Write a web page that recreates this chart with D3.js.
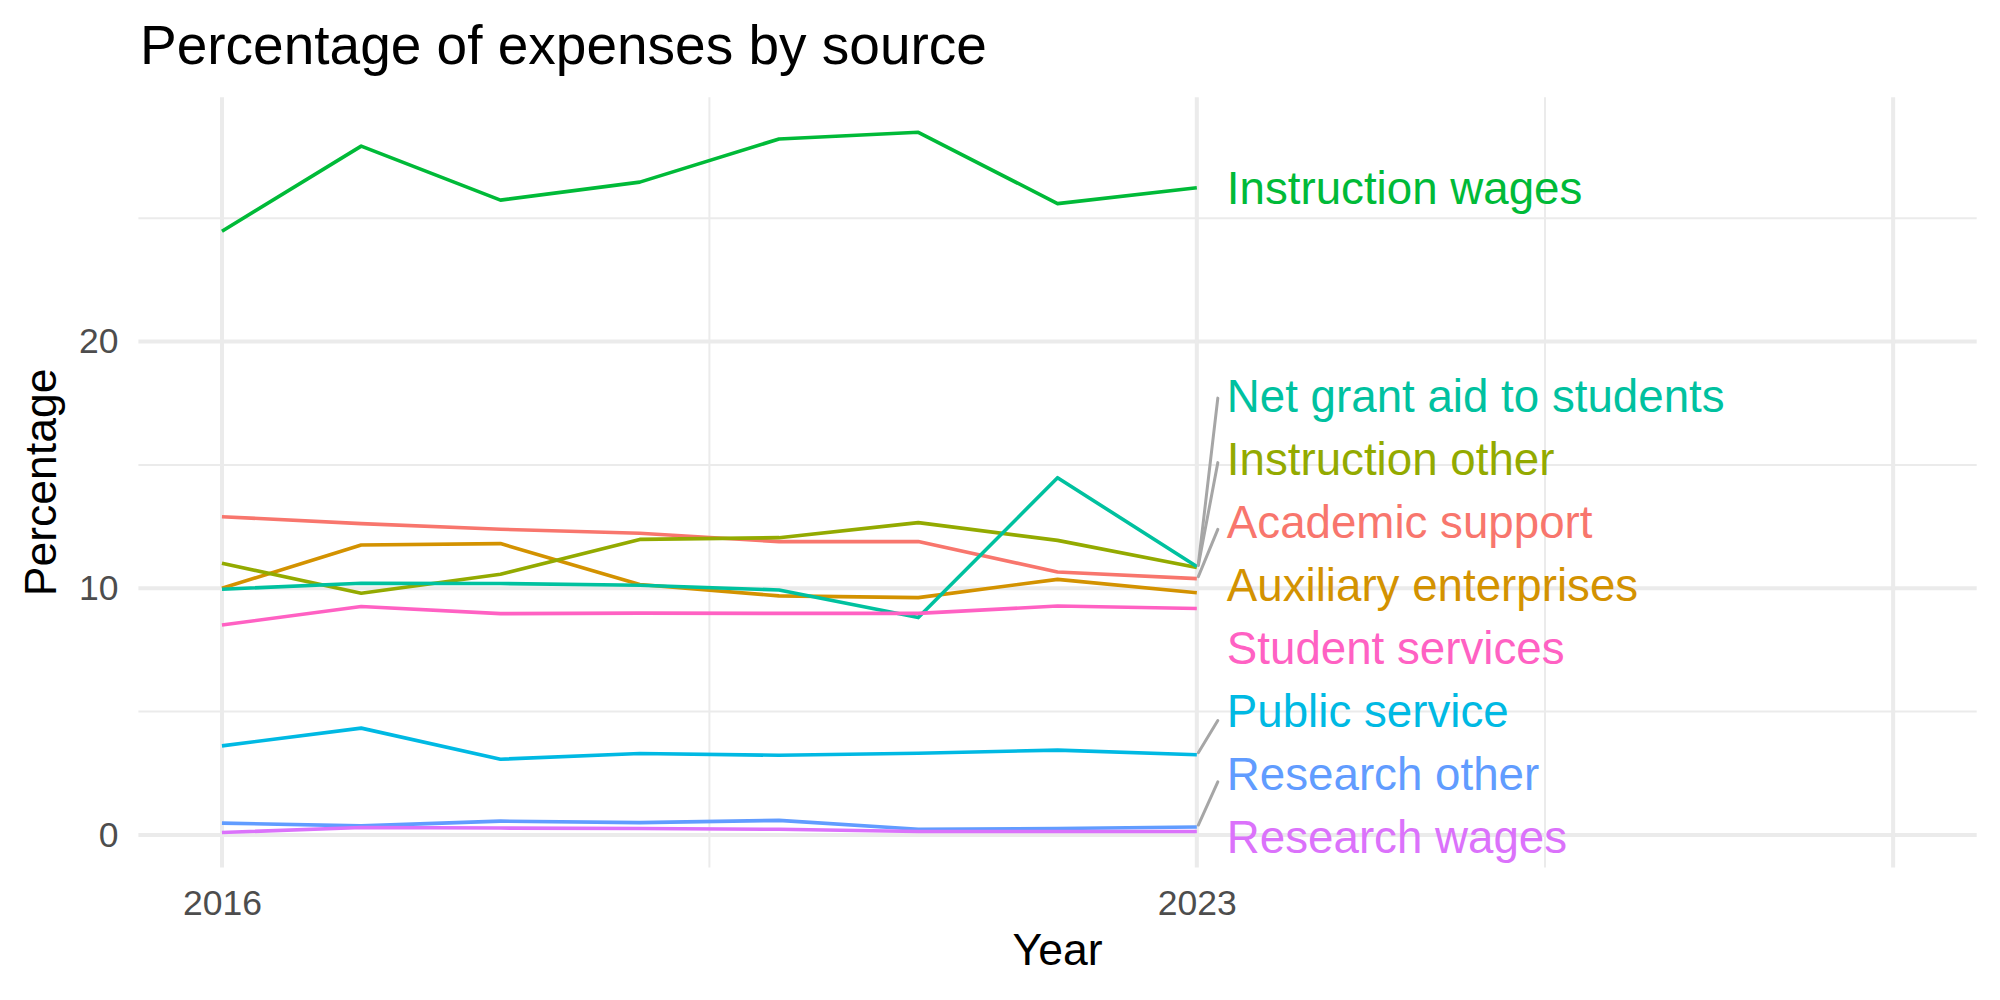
<!DOCTYPE html>
<html lang="en">
<head>
  <script src="https://d3js.org/d3.v7.min.js"></script>
  <style>
    body { margin: 0; background: #fff; }
    svg { font-family: "Liberation Sans", Arial, Helvetica, sans-serif; }
  </style>
</head>
<body>
  <svg width="2000" height="1000"></svg>
  <script>
    // data
    var years = [2016, 2017, 2018, 2019, 2020, 2021, 2022, 2023];
    var seriesNames = ["Academic support", "Auxiliary enterprises", "Instruction other", "Instruction wages",
      "Net grant aid to students", "Public service", "Research other", "Research wages", "Student services"];
    var academicSupport = [12.90, 12.62, 12.39, 12.23, 11.89, 11.89, 10.66, 10.39];
    var auxiliaryEnterprises = [10.00, 11.75, 11.81, 10.15, 9.69, 9.62, 10.36, 9.82];
    var instructionOther = [11.01, 9.80, 10.57, 11.98, 12.05, 12.66, 11.94, 10.84];
    var instructionWages = [24.47, 27.92, 25.73, 26.46, 28.21, 28.48, 25.59, 26.23];
    var netGrantAid = [9.96, 10.20, 10.19, 10.12, 9.93, 8.81, 14.48, 10.88];
    var publicService = [3.61, 4.33, 3.07, 3.30, 3.23, 3.31, 3.44, 3.25];
    var researchOther = [0.48, 0.37, 0.56, 0.50, 0.59, 0.23, 0.26, 0.32];
    var researchWages = [0.10, 0.30, 0.28, 0.26, 0.23, 0.14, 0.14, 0.14];
    var studentServices = [8.51, 9.26, 8.97, 8.99, 8.98, 8.98, 9.28, 9.18];
    var seriesValues = [academicSupport, auxiliaryEnterprises, instructionOther, instructionWages,
      netGrantAid, publicService, researchOther, researchWages, studentServices];
    var colors = ["#F8766D", "#D39200", "#93AA00", "#00BA38", "#00C19F", "#00B9E3", "#619CFF", "#DB72FB", "#FF61C3"];
    var xLimits = [2016, 2028];
    var xBreaks = [2016, 2023, 2028];
    var xLabels = ["2016", "2023", ""];
    var xMinor = [2019.5, 2025.5];
    var yBreaks = [0, 10, 20];
    var yMinor = [5, 15, 25];

    var pLeft = 138.4, pRight = 1976.7, pTop = 97.3, pBottom = 867.5;
    var svg = d3.select("svg");

    var series = seriesNames.map(function (n, i) {
      return { name: n, color: colors[i], values: seriesValues[i].map(function (v, j) { return { year: years[j], value: v }; }) };
    });

    var xpad = (xLimits[1] - xLimits[0]) * 0.05;
    var x = d3.scaleLinear().domain([xLimits[0] - xpad, xLimits[1] + xpad]).range([pLeft, pRight]);
    var allVals = d3.merge(seriesValues);
    var ext = d3.extent(allVals);
    var ypad = (ext[1] - ext[0]) * 0.05;
    var y = d3.scaleLinear().domain([ext[0] - ypad, ext[1] + ypad]).range([pBottom, pTop]);

    // grid
    var grid = svg.append("g").attr("stroke", "#EBEBEB");
    grid.selectAll(".ymin").data(yMinor).enter().append("line")
      .attr("x1", pLeft).attr("x2", pRight).attr("y1", function (d) { return y(d); }).attr("y2", function (d) { return y(d); })
      .attr("stroke-width", 2);
    grid.selectAll(".xmin").data(xMinor).enter().append("line")
      .attr("y1", pTop).attr("y2", pBottom).attr("x1", function (d) { return x(d); }).attr("x2", function (d) { return x(d); })
      .attr("stroke-width", 2);
    grid.selectAll(".ymaj").data(yBreaks).enter().append("line")
      .attr("x1", pLeft).attr("x2", pRight).attr("y1", function (d) { return y(d); }).attr("y2", function (d) { return y(d); })
      .attr("stroke-width", 4);
    grid.selectAll(".xmaj").data(xBreaks).enter().append("line")
      .attr("y1", pTop).attr("y2", pBottom).attr("x1", function (d) { return x(d); }).attr("x2", function (d) { return x(d); })
      .attr("stroke-width", 4);

    // axes
    var yAxis = svg.append("g").attr("transform", "translate(" + pLeft + ",0)")
      .call(d3.axisLeft(y).tickValues(yBreaks).tickSize(0).tickPadding(20));
    var xAxis = svg.append("g").attr("transform", "translate(0," + pBottom + ")")
      .call(d3.axisBottom(x).tickValues(xBreaks).tickFormat(function (d, i) { return xLabels[i]; }).tickSize(0).tickPadding(22));
    [xAxis, yAxis].forEach(function (a) {
      a.select(".domain").remove();
      a.selectAll("text").attr("fill", "#4D4D4D").style("font-size", "35.5px").style("font-family", "Liberation Sans, Arial, sans-serif");
    });

    // lines
    var line = d3.line().x(function (d) { return x(d.year); }).y(function (d) { return y(d.value); });
    svg.append("g").selectAll("path").data(series).enter().append("path")
      .attr("d", function (d) { return line(d.values); })
      .attr("fill", "none").attr("stroke", function (d) { return d.color; })
      .attr("stroke-width", 3.6).attr("stroke-linejoin", "round");

    // end labels, simple repel in pixel space
    var gap = 63, maxY = pBottom - 31;
    var lab = series.map(function (s) {
      var last = s.values[s.values.length - 1];
      return { s: s, px: x(last.year), py: y(last.value), ly: y(last.value) };
    }).sort(function (a, b) { return a.py - b.py; });
    var clusters = lab.map(function (d) { return { items: [d], target: d.py }; });
    var merged = true;
    function place(c) {
      var n = c.items.length, start = c.target - (n - 1) * gap / 2;
      c.items.forEach(function (d, i) { d.ly = start + i * gap; });
    }
    while (merged) {
      merged = false;
      clusters.forEach(place);
      for (var i = 0; i < clusters.length - 1; i++) {
        var a = clusters[i], b = clusters[i + 1];
        if (a.items[a.items.length - 1].ly + gap > b.items[0].ly) {
          var items = a.items.concat(b.items);
          clusters.splice(i, 2, { items: items, target: d3.mean(items, function (d) { return d.py; }) });
          merged = true;
          break;
        }
      }
    }
    clusters.forEach(place);
    lab[lab.length - 1].ly = Math.min(lab[lab.length - 1].ly, maxY);
    for (var k = lab.length - 2; k >= 0; k--) lab[k].ly = Math.min(lab[k].ly, lab[k + 1].ly - gap);

    var labelX = x(2023) + 30;
    var segs = lab.filter(function (d) { return Math.abs(d.ly - d.py) > 42; });
    svg.append("g").selectAll("line").data(segs).enter().append("line")
      .attr("x1", function (d) { return d.px + 1.5; })
      .attr("y1", function (d) { return d.py + (d.ly < d.py ? -2 : 2); })
      .attr("x2", labelX - 9)
      .attr("y2", function (d) {
        var diff = d.py - d.ly;
        return d.ly + Math.sign(diff) * Math.min(10, 450 / Math.abs(diff));
      })
      .attr("stroke", "#A6A6A6").attr("stroke-width", 3).attr("stroke-linecap", "round");
    svg.append("g").selectAll("text").data(lab).enter().append("text")
      .attr("x", labelX).attr("y", function (d) { return d.ly; }).attr("dy", "0.36em")
      .attr("fill", function (d) { return d.s.color; })
      .style("font-size", "45.7px")
      .text(function (d) { return d.s.name; });

    // titles
    svg.append("text").attr("x", 140).attr("y", 64).style("font-size", "55px").attr("fill", "#000")
      .text("Percentage of expenses by source");
    svg.append("text").attr("x", (pLeft + pRight) / 2).attr("y", 965).attr("text-anchor", "middle")
      .style("font-size", "44.5px").text("Year");
    svg.append("text").attr("transform", "translate(56," + ((pTop + pBottom) / 2) + ") rotate(-90)")
      .attr("text-anchor", "middle").style("font-size", "44.5px").text("Percentage");
  </script>
</body>
</html>
